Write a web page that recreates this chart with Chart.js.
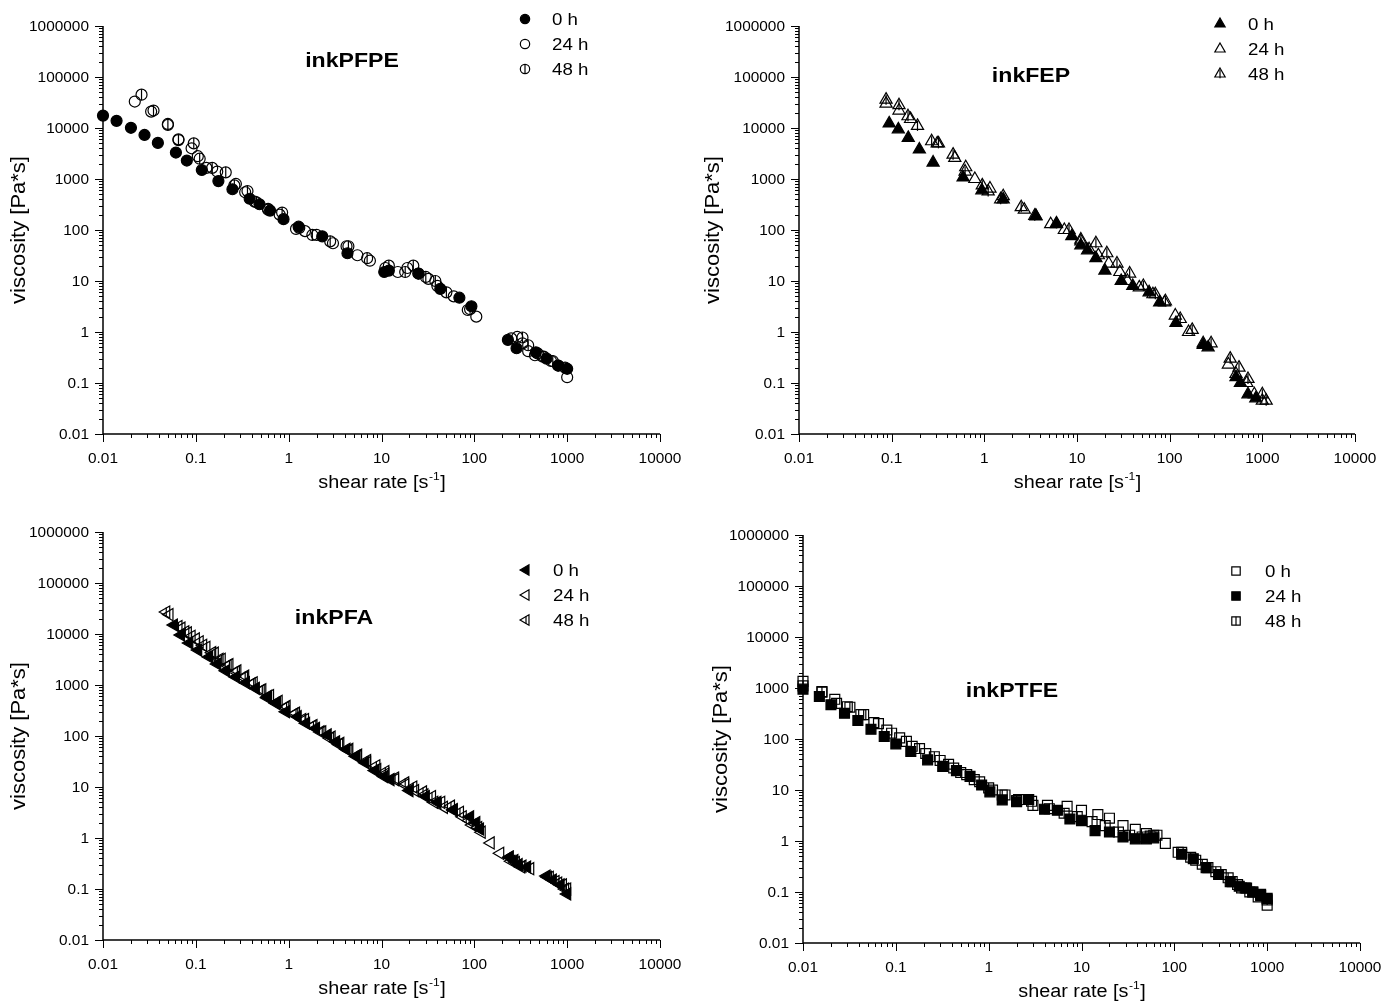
<!DOCTYPE html>
<html>
<head>
<meta charset="utf-8">
<script src="https://cdn.jsdelivr.net/npm/chart.js@4.4.1/dist/chart.umd.min.js"></script>
<style>
  html, body { margin: 0; padding: 0; background: #fff; }
  #wrap { position: relative; width: 1385px; height: 1003px; overflow: hidden; }
  .panel { position: absolute; }
</style>
</head>
<body>
<div id="wrap">
  <div class="panel" style="left:0;top:0"><canvas id="c1" width="692" height="500"></canvas></div>
  <div class="panel" style="left:692px;top:0"><canvas id="c2" width="693" height="500"></canvas></div>
  <div class="panel" style="left:0;top:500px"><canvas id="c3" width="692" height="503"></canvas></div>
  <div class="panel" style="left:692px;top:500px"><canvas id="c4" width="693" height="503"></canvas></div>
</div>
<script>
// tick labels
var xTickValues = [0.01, 0.1, 1, 10, 100, 1000, 10000];
var yTickValues = [0.01, 0.1, 1, 10, 100, 1000, 10000, 100000, 1000000];
var seriesLabels = ['0 h', '24 h', '48 h'];

// inkPFPE
var pfpeShear0 = [0.01, 0.014, 0.02, 0.028, 0.039, 0.061, 0.08, 0.116, 0.175, 0.248, 0.38, 0.485, 0.63, 0.88, 1.28, 2.3, 4.3, 10.7, 12, 25, 43, 69, 93, 230, 285, 460, 600, 800, 1000];
var pfpeVisc0 = [17500, 13800, 10100, 7300, 5100, 3300, 2300, 1500, 910, 630, 410, 320, 240, 163, 116, 75, 35, 15, 16, 14, 7, 4.7, 3.2, 0.7, 0.48, 0.4, 0.3, 0.22, 0.19];
var pfpeShear24 = [0.022, 0.033, 0.05, 0.065, 0.09, 0.105, 0.13, 0.17, 0.27, 0.34, 0.43, 0.6, 0.8, 1.2, 1.5, 2.0, 3.0, 4.2, 5.5, 7.5, 11, 15, 19, 25, 32, 40, 60, 85, 105, 250, 290, 330, 380, 450, 540, 670, 800, 1000];
var pfpeVisc24 = [33000, 21000, 12000, 6000, 4000, 2800, 1650, 1400, 800, 550, 360, 250, 200, 105, 95, 80, 55, 48, 32, 25, 18, 15, 18, 14, 11, 8, 5, 2.7, 2.0, 0.75, 0.8, 0.6, 0.42, 0.35, 0.33, 0.27, 0.22, 0.13];
var pfpeShear48 = [0.026, 0.035, 0.05, 0.065, 0.095, 0.11, 0.15, 0.21, 0.26, 0.36, 0.45, 0.6, 0.85, 1.3, 1.8, 2.8, 4.4, 7, 12, 18, 22, 30, 38, 50, 90, 330, 380, 480, 560, 700, 950];
var pfpeVisc48 = [45000, 22000, 11500, 5800, 5000, 2500, 1650, 1350, 750, 580, 350, 260, 220, 110, 80, 60, 48, 28, 20, 15, 20, 12, 10, 6, 2.8, 0.78, 0.55, 0.38, 0.33, 0.27, 0.2];

// inkFEP
var fepShear0 = [0.094, 0.118, 0.151, 0.199, 0.28, 0.59, 0.94, 1.6, 3.6, 6, 8.8, 11, 13, 16, 20, 30, 40, 60, 78, 117, 230, 260, 520, 580, 700, 850];
var fepVisc0 = [12300, 9400, 6400, 3800, 2100, 1070, 600, 400, 185, 130, 76, 50, 40, 28, 16, 10, 8, 6, 3.8, 1.5, 0.56, 0.5, 0.13, 0.1, 0.06, 0.05];
var fepShear24 = [0.087, 0.12, 0.16, 0.31, 0.48, 0.63, 0.79, 1.15, 1.6, 2.7, 3.6, 5.2, 7.3, 11, 13.5, 17, 22, 29, 35, 47, 66, 88, 115, 160, 230, 430, 520, 680, 820, 1000];
var fepVisc24 = [30000, 22000, 15000, 5000, 2600, 1700, 1000, 650, 460, 250, 190, 130, 100, 65, 42, 32, 22, 15, 10, 7.5, 5.5, 3.8, 2.1, 1.0, 0.6, 0.23, 0.15, 0.1, 0.06, 0.045];
var fepShear48 = [0.087, 0.12, 0.15, 0.19, 0.27, 0.32, 0.46, 0.62, 0.95, 1.1, 1.5, 2.5, 3.5, 6, 8.2, 11, 16, 21, 27, 37, 52, 70, 90, 130, 175, 280, 450, 560, 700, 1000, 1100];
var fepVisc48 = [36000, 28000, 17000, 11000, 5500, 5000, 3000, 1400, 750, 570, 400, 280, 190, 135, 100, 60, 55, 35, 22, 14, 8, 5.5, 4, 1.8, 1.1, 0.6, 0.3, 0.2, 0.12, 0.06, 0.045];

// inkPFA
var pfaShear0 = [0.058, 0.069, 0.085, 0.106, 0.139, 0.17, 0.211, 0.27, 0.346, 0.443, 0.587, 0.73, 0.935, 1.25, 1.54, 1.97, 2.63, 3.24, 4.2, 5.3, 6.7, 8.5, 10.7, 12.5, 20, 30, 40, 60, 90, 105, 115, 240, 270, 300, 370, 600, 700, 850, 1000];
var pfaVisc0 = [15000, 9550, 6660, 4850, 3540, 2580, 1900, 1435, 1110, 861, 563, 437, 299, 239, 178, 142, 105, 77, 55, 40, 30, 21, 16, 14, 8.5, 6.5, 5, 3.6, 2.6, 2, 1.5, 0.42, 0.36, 0.3, 0.27, 0.18, 0.15, 0.12, 0.08];
var pfaShear24 = [0.052, 0.07, 0.082, 0.1, 0.12, 0.15, 0.18, 0.22, 0.27, 0.33, 0.4, 0.5, 0.6, 0.75, 0.92, 1.15, 1.4, 1.8, 2.2, 2.8, 3.5, 4.4, 5.5, 7, 9, 11, 14, 18, 23, 29, 37, 47, 60, 75, 95, 120, 150, 190, 250, 320, 400, 620, 750, 900, 1000];
var pfaVisc24 = [24000, 13000, 10500, 8000, 6000, 4300, 3200, 2400, 1800, 1400, 1050, 780, 600, 450, 360, 270, 210, 155, 120, 90, 68, 52, 40, 30, 22, 18, 14, 11, 8.5, 7, 5, 4, 3.5, 2.6, 1.8, 1.3, 0.8, 0.5, 0.35, 0.27, 0.25, 0.17, 0.14, 0.12, 0.1];
var pfaShear48 = [0.048, 0.065, 0.077, 0.09, 0.11, 0.13, 0.16, 0.19, 0.23, 0.28, 0.34, 0.42, 0.52, 0.63, 0.78, 0.95, 1.2, 1.5, 1.85, 2.3, 2.9, 3.6, 4.5, 5.6, 7, 8.8, 11, 14, 18, 22, 28, 35, 44, 56, 70, 88, 110, 240, 280, 330, 650, 800, 950];
var pfaVisc48 = [27000, 14000, 11000, 9000, 7000, 5500, 4200, 3200, 2500, 1900, 1500, 1100, 800, 620, 480, 380, 280, 210, 160, 120, 95, 72, 55, 42, 33, 26, 20, 15, 12, 10, 8, 6.5, 5, 4.2, 3.2, 2.2, 1.6, 0.42, 0.33, 0.28, 0.17, 0.13, 0.1];

// inkPTFE
var ptfeShear0 = [0.01, 0.016, 0.022, 0.03, 0.042, 0.058, 0.08, 0.11, 0.15, 0.21, 0.3, 0.42, 0.58, 0.8, 1.1, 1.5, 2.1, 2.9, 4.3, 7, 10, 15, 20, 28, 38, 50, 60, 80, 120, 170, 230, 320, 420, 530, 650, 800, 1000];
var ptfeVisc0 = [1350, 830, 600, 430, 300, 210, 150, 105, 72, 52, 38, 27, 20, 14.5, 10, 8, 6.5, 6, 5, 4.8, 4, 3.3, 2.8, 2, 1.7, 1.4, 1.3, 0.9, 0.6, 0.42, 0.3, 0.22, 0.16, 0.12, 0.1, 0.08, 0.055];
var ptfeShear24 = [0.01, 0.015, 0.02, 0.028, 0.039, 0.054, 0.075, 0.1, 0.145, 0.22, 0.32, 0.45, 0.63, 0.84, 1.03, 1.4, 2.0, 2.7, 4, 5.5, 7.5, 10, 14, 20, 28, 38, 50, 60, 120, 160, 220, 300, 400, 500, 600, 700, 850, 1000];
var ptfeVisc24 = [950, 680, 470, 320, 230, 155, 112, 80, 57, 39, 29, 24, 18.5, 12.5, 9.2, 6.4, 5.9, 6.5, 4.2, 4, 2.7, 2.5, 1.6, 1.5, 1.2, 1.1, 1.1, 1.15, 0.55, 0.45, 0.3, 0.22, 0.16, 0.13, 0.12, 0.1, 0.09, 0.075];
var ptfeShear48 = [0.01, 0.016, 0.023, 0.032, 0.045, 0.065, 0.09, 0.13, 0.18, 0.26, 0.37, 0.5, 0.7, 1, 1.4, 2, 3, 4.5, 6.5, 9, 13, 18, 25, 33, 45, 55, 65, 110, 150, 200, 280, 380, 480, 580, 700, 850, 1000];
var ptfeVisc48 = [1100, 850, 500, 420, 300, 200, 130, 90, 65, 45, 32, 22, 16, 11, 8, 6.2, 5, 4.3, 3.5, 3, 2.4, 2.0, 1.5, 1.3, 1.2, 1.25, 1.3, 0.6, 0.48, 0.35, 0.25, 0.19, 0.14, 0.12, 0.1, 0.085, 0.07];

var FONT = '"Liberation Sans", Arial, sans-serif';
var STRETCH = 1.1;

// marker shapes per panel (Chart.js built-in point styles)
var shapes = {
  circle: { style: 'circle', rotation: 0, radius: 5.5, bar: 5.5 },
  up: { style: 'triangle', rotation: 0, radius: 7, bar: 5 },
  left: { style: 'triangle', rotation: -90, radius: 7, bar: 4.5 },
  square: { style: 'rect', rotation: 0, radius: 7, bar: 5 }
};

function pts(xs, ys) {
  return xs.map(function (x, i) { return { x: x, y: ys[i] }; });
}

function minorValues(majors) {
  var out = [];
  for (var i = 0; i < majors.length - 1; i++) {
    for (var m = 2; m <= 9; m++) out.push(majors[i] * m);
  }
  return out;
}

function drawText(ctx, text, x, y, align, font) {
  ctx.save();
  ctx.font = font;
  ctx.textBaseline = 'alphabetic';
  var w = ctx.measureText(text).width * STRETCH;
  var left = align === 'right' ? x - w : align === 'center' ? x - w / 2 : x;
  ctx.translate(left, y);
  ctx.scale(STRETCH, 1);
  ctx.fillText(text, 0, 0);
  ctx.restore();
  return w;
}

var decor = {
  id: 'decor',
  beforeDatasetsDraw: function (chart) {
    var ctx = chart.ctx, a = chart.chartArea;
    var xs = chart.scales.x, ys = chart.scales.y;
    ctx.save();
    ctx.strokeStyle = '#000';
    ctx.lineWidth = 1.5;
    ctx.beginPath();
    ctx.moveTo(a.left, a.top);
    ctx.lineTo(a.left, a.bottom);
    ctx.lineTo(a.right, a.bottom);
    ctx.stroke();
    ctx.lineWidth = 1;
    ctx.beginPath();
    xTickValues.forEach(function (v) {
      var p = Math.round(xs.getPixelForValue(v)) + 0.5;
      ctx.moveTo(p, a.bottom); ctx.lineTo(p, a.bottom + 8);
    });
    minorValues(xTickValues).forEach(function (v) {
      var p = Math.round(xs.getPixelForValue(v)) + 0.5;
      ctx.moveTo(p, a.bottom); ctx.lineTo(p, a.bottom + 4);
    });
    yTickValues.forEach(function (v) {
      var p = Math.round(ys.getPixelForValue(v)) + 0.5;
      ctx.moveTo(a.left, p); ctx.lineTo(a.left - 8, p);
    });
    minorValues(yTickValues).forEach(function (v) {
      var p = Math.round(ys.getPixelForValue(v)) + 0.5;
      ctx.moveTo(a.left, p); ctx.lineTo(a.left - 4, p);
    });
    ctx.stroke();
    ctx.fillStyle = '#000';
    var tf = '14px ' + FONT;
    xTickValues.forEach(function (v) {
      drawText(ctx, String(v), xs.getPixelForValue(v), a.bottom + 28.5, 'center', tf);
    });
    yTickValues.forEach(function (v) {
      drawText(ctx, String(v), a.left - 14, ys.getPixelForValue(v) + 5, 'right', tf);
    });
    ctx.restore();
  },
  afterDraw: function (chart, args, o) {
    var ctx = chart.ctx, a = chart.chartArea;
    ctx.save();
    ctx.fillStyle = '#000';
    // panel title
    drawText(ctx, o.title, o.titleX, o.titleY + 7, 'center', 'bold 21px ' + FONT);
    // x axis title with superscript
    var mainF = '18px ' + FONT, supF = '11px ' + FONT;
    ctx.font = mainF;
    var w1 = ctx.measureText('shear rate [s').width * STRETCH;
    ctx.font = supF;
    var w2 = ctx.measureText('-1').width * STRETCH;
    ctx.font = mainF;
    var w3 = ctx.measureText(']').width * STRETCH;
    var cx = (a.left + a.right) / 2 - (w1 + w2 + w3) / 2;
    var by = a.bottom + 54;
    drawText(ctx, 'shear rate [s', cx, by, 'left', mainF);
    drawText(ctx, '-1', cx + w1 + 0.5, by - 8, 'left', supF);
    drawText(ctx, ']', cx + w1 + w2 + 1, by, 'left', mainF);
    // y axis title
    ctx.save();
    ctx.translate(o.yTitleX, (a.top + a.bottom) / 2);
    ctx.rotate(-Math.PI / 2);
    drawText(ctx, 'viscosity [Pa*s]', 0, 7, 'center', '20px ' + FONT);
    ctx.restore();
    // legend
    var sh = shapes[o.shape];
    seriesLabels.forEach(function (label, i) {
      var y = o.legendY + i * o.legendDy;
      ctx.save();
      ctx.strokeStyle = '#000';
      ctx.lineWidth = 1.2;
      ctx.fillStyle = o.filled[i] ? '#000' : 'rgba(0,0,0,0)';
      Chart.helpers.drawPoint(ctx, { pointStyle: sh.style, rotation: sh.rotation, radius: sh.radius * 0.85, borderWidth: 1.2 }, o.legendX, y);
      if (i === 2) {
        Chart.helpers.drawPoint(ctx, { pointStyle: 'line', rotation: 90, radius: sh.bar * 0.85, borderWidth: 1.2 }, o.legendX, y);
      }
      ctx.restore();
      ctx.fillStyle = '#000';
      drawText(ctx, label, o.textX, y + 6, 'left', '17px ' + FONT);
    });
    ctx.restore();
  }
};

function buildChart(id, series, shapeKey, filled, box, deco) {
  var sh = shapes[shapeKey];
  var datasets = series.map(function (s, i) {
    return {
      label: seriesLabels[i],
      data: pts(s[0], s[1]),
      order: 3 - i,
      pointStyle: sh.style,
      rotation: sh.rotation,
      pointRadius: sh.radius,
      pointBorderWidth: 1.2,
      pointBorderColor: '#000',
      pointBackgroundColor: filled[i] ? '#000' : 'rgba(0,0,0,0)',
      showLine: false,
      clip: false
    };
  });
  // vertical bar inside the 48 h markers
  datasets.push({
    label: seriesLabels[2] + ' bar',
    data: pts(series[2][0], series[2][1]),
    order: 0,
    pointStyle: 'line',
    rotation: 90,
    pointRadius: sh.bar,
    pointBorderWidth: 1.2,
    pointBorderColor: '#000',
    showLine: false,
    clip: false
  });
  deco.shape = shapeKey;
  deco.filled = filled;
  return new Chart(document.getElementById(id), {
    type: 'scatter',
    data: { datasets: datasets },
    plugins: [decor],
    options: {
      responsive: false,
      animation: false,
      events: [],
      layout: { padding: { top: box.top, right: box.right, left: 0, bottom: 0 } },
      plugins: { legend: { display: false }, tooltip: { enabled: false }, decor: deco },
      scales: {
        x: {
          type: 'logarithmic',
          min: xTickValues[0],
          max: xTickValues[xTickValues.length - 1],
          afterBuildTicks: function (s) { s.ticks = xTickValues.map(function (v) { return { value: v, major: true }; }); },
          afterFit: function (s) { s.height = box.xh; },
          ticks: { display: false },
          grid: { display: false, drawTicks: false },
          border: { display: false }
        },
        y: {
          type: 'logarithmic',
          min: yTickValues[0],
          max: yTickValues[yTickValues.length - 1],
          afterBuildTicks: function (s) { s.ticks = yTickValues.map(function (v) { return { value: v, major: true }; }); },
          afterFit: function (s) { s.width = box.yw; },
          ticks: { display: false },
          grid: { display: false, drawTicks: false },
          border: { display: false }
        }
      }
    }
  });
}

buildChart('c1',
  [[pfpeShear0, pfpeVisc0], [pfpeShear24, pfpeVisc24], [pfpeShear48, pfpeVisc48]],
  'circle', [true, false, false],
  { top: 26, right: 32, yw: 103, xh: 66 },
  { title: 'inkPFPE', titleX: 352, titleY: 60, legendX: 525, legendY: 19, legendDy: 25, textX: 552, yTitleX: 18 });

buildChart('c2',
  [[fepShear0, fepVisc0], [fepShear24, fepVisc24], [fepShear48, fepVisc48]],
  'up', [true, false, false],
  { top: 26, right: 30, yw: 107, xh: 66 },
  { title: 'inkFEP', titleX: 339, titleY: 75, legendX: 528, legendY: 24, legendDy: 25, textX: 556, yTitleX: 20 });

buildChart('c3',
  [[pfaShear0, pfaVisc0], [pfaShear24, pfaVisc24], [pfaShear48, pfaVisc48]],
  'left', [true, false, false],
  { top: 32, right: 32, yw: 103, xh: 63 },
  { title: 'inkPFA', titleX: 334, titleY: 117, legendX: 526, legendY: 70, legendDy: 25, textX: 553, yTitleX: 18 });

buildChart('c4',
  [[ptfeShear0, ptfeVisc0], [ptfeShear24, ptfeVisc24], [ptfeShear48, ptfeVisc48]],
  'square', [false, true, false],
  { top: 35, right: 25, yw: 111, xh: 60 },
  { title: 'inkPTFE', titleX: 320, titleY: 190, legendX: 544, legendY: 71, legendDy: 25, textX: 573, yTitleX: 28 });
</script>
</body>
</html>
